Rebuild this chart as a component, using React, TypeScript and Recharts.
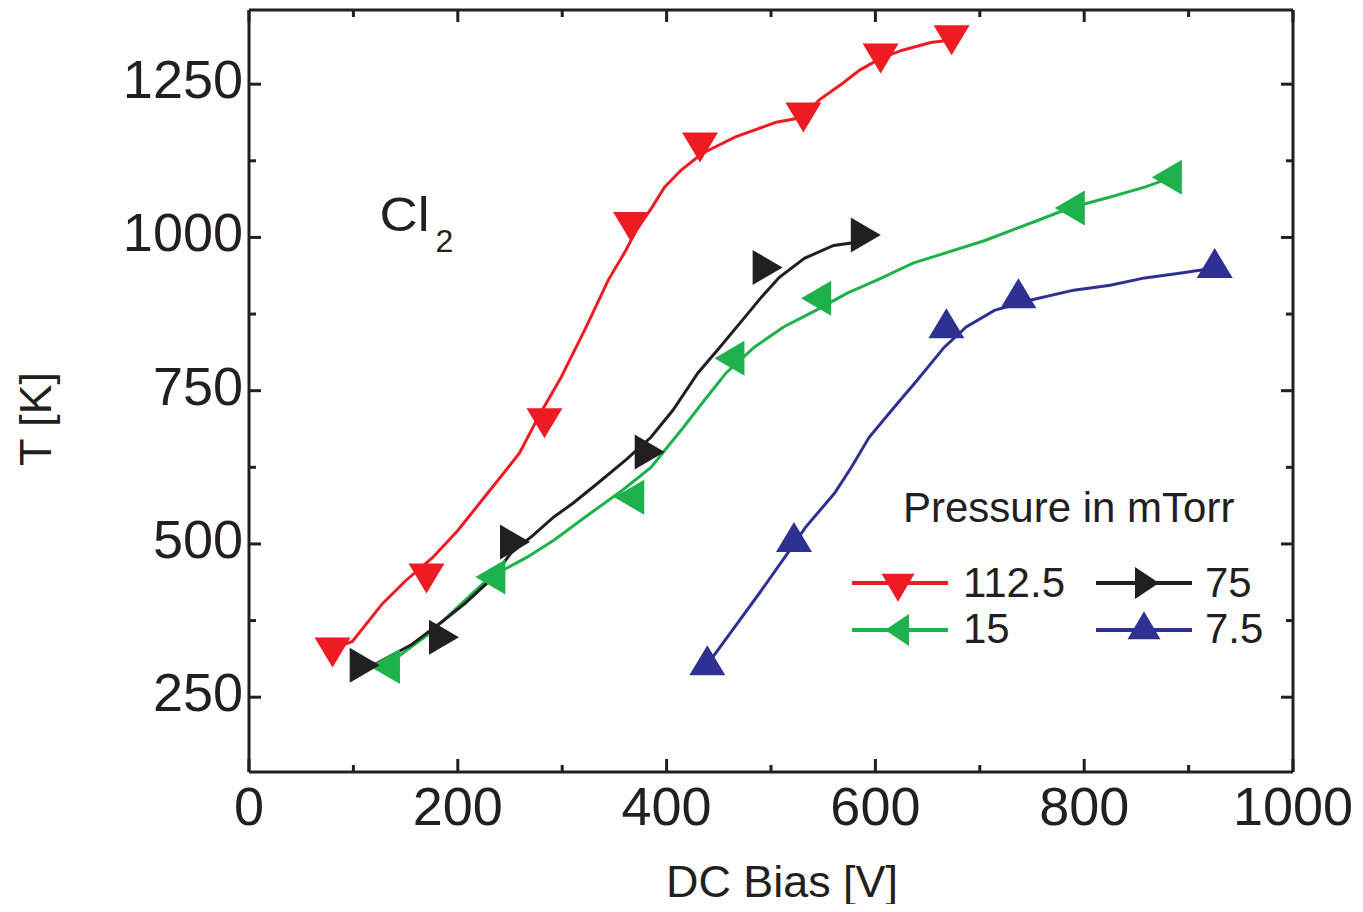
import React from 'react';
import { ComposedChart, Line, Scatter, XAxis, YAxis, Legend, ReferenceDot, Label } from 'recharts';

const FONT = '"Liberation Sans", Arial, Helvetica, sans-serif';
const INK = '#231F20';

// axes
const xDomain = [0, 1000];
const yDomain = [128, 1371];
const xTicks = [0, 100, 200, 300, 400, 500, 600, 700, 800, 900, 1000];
const xLabeled = [0, 200, 400, 600, 800, 1000];
const yTicks = [250, 375, 500, 625, 750, 875, 1000, 1125, 1250];
const yLabeled = [250, 500, 750, 1000, 1250];

// 112.5 mTorr (red)
const line112 = [
  { x: 82, y: 330 }, { x: 99, y: 341 }, { x: 128, y: 403 }, { x: 150, y: 440 }, { x: 176, y: 478 },
  { x: 200, y: 522 }, { x: 231, y: 588 }, { x: 259, y: 648 }, { x: 279, y: 713 }, { x: 299, y: 772 },
  { x: 323, y: 854 }, { x: 344, y: 930 }, { x: 361, y: 979 }, { x: 371, y: 1012 }, { x: 386, y: 1049 },
  { x: 398, y: 1082 }, { x: 414, y: 1110 }, { x: 434, y: 1137 }, { x: 466, y: 1164 }, { x: 505, y: 1188 },
  { x: 531, y: 1196 }, { x: 546, y: 1224 }, { x: 569, y: 1252 }, { x: 585, y: 1273 }, { x: 605, y: 1292 },
  { x: 625, y: 1305 }, { x: 653, y: 1318 }, { x: 673, y: 1322 },
];
const marks112 = [
  { x: 80, y: 331 }, { x: 170, y: 452 }, { x: 283, y: 705 }, { x: 366, y: 1025 },
  { x: 432, y: 1155 }, { x: 531, y: 1204 }, { x: 605, y: 1300 }, { x: 673, y: 1330 },
];

// 15 mTorr (green)
const line15 = [
  { x: 135, y: 300 }, { x: 142, y: 315 }, { x: 173, y: 354 }, { x: 200, y: 397 }, { x: 231, y: 446 },
  { x: 266, y: 478 }, { x: 292, y: 506 }, { x: 327, y: 550 }, { x: 358, y: 588 }, { x: 385, y: 625 },
  { x: 416, y: 690 }, { x: 436, y: 734 }, { x: 457, y: 779 }, { x: 484, y: 821 }, { x: 512, y: 854 },
  { x: 543, y: 881 }, { x: 573, y: 909 }, { x: 601, y: 930 }, { x: 636, y: 958 }, { x: 705, y: 995 },
  { x: 756, y: 1028 }, { x: 786, y: 1048 }, { x: 825, y: 1066 }, { x: 858, y: 1082 }, { x: 884, y: 1098 },
];
const marks15 = [
  { x: 135, y: 300 }, { x: 236, y: 446 }, { x: 369, y: 576 }, { x: 465, y: 803 },
  { x: 548, y: 901 }, { x: 791, y: 1048 }, { x: 884, y: 1098 },
];

// 75 mTorr (black)
const line75 = [
  { x: 106, y: 302 }, { x: 122, y: 305 }, { x: 155, y: 335 }, { x: 187, y: 376 }, { x: 207, y: 403 },
  { x: 231, y: 441 }, { x: 251, y: 485 }, { x: 272, y: 514 }, { x: 292, y: 544 }, { x: 310, y: 566 },
  { x: 334, y: 599 }, { x: 361, y: 637 }, { x: 385, y: 674 }, { x: 406, y: 718 }, { x: 430, y: 779 },
  { x: 451, y: 821 }, { x: 475, y: 870 }, { x: 491, y: 903 }, { x: 508, y: 935 }, { x: 532, y: 966 },
  { x: 560, y: 987 }, { x: 577, y: 991 }, { x: 586, y: 1004 },
];
const marks75 = [
  { x: 106, y: 302 }, { x: 182, y: 348 }, { x: 250, y: 503 }, { x: 379, y: 650 },
  { x: 492, y: 951 }, { x: 586, y: 1004 },
];

// 7.5 mTorr (blue)
const line7 = [
  { x: 439, y: 302 }, { x: 444, y: 315 }, { x: 465, y: 364 }, { x: 489, y: 420 }, { x: 516, y: 485 },
  { x: 533, y: 527 }, { x: 561, y: 583 }, { x: 577, y: 625 }, { x: 594, y: 674 }, { x: 618, y: 723 },
  { x: 640, y: 767 }, { x: 666, y: 821 }, { x: 687, y: 854 }, { x: 714, y: 881 }, { x: 749, y: 898 },
  { x: 790, y: 914 }, { x: 825, y: 922 }, { x: 858, y: 934 }, { x: 893, y: 942 }, { x: 925, y: 950 },
];
const marks7 = [
  { x: 439, y: 302 }, { x: 522, y: 503 }, { x: 668, y: 852 }, { x: 737, y: 901 }, { x: 925, y: 950 },
];

const seriesNames = ['112.5', '15', '75', '7.5'];
const seriesColors = ['#ED1C24', '#1FB14B', '#231F20', '#2E3192'];
const seriesDirs = ['down', 'left', 'right', 'up'];
const seriesLines = [line112, line15, line75, line7];
const seriesMarks = [marks112, marks15, marks75, marks7];

const series = seriesNames.map((name, i) => ({
  name, color: seriesColors[i], dir: seriesDirs[i], line: seriesLines[i], marks: seriesMarks[i],
}));

// triangle positioned by its centroid
function triPoints(dir: string, cx: number, cy: number, base: number, depth: number) {
  const b = base / 2;
  switch (dir) {
    case 'down':
      return `${cx - b},${cy - depth / 3} ${cx + b},${cy - depth / 3} ${cx},${cy + (2 * depth) / 3}`;
    case 'up':
      return `${cx - b},${cy + depth / 3} ${cx + b},${cy + depth / 3} ${cx},${cy - (2 * depth) / 3}`;
    case 'right':
      return `${cx - depth / 3},${cy - b} ${cx - depth / 3},${cy + b} ${cx + (2 * depth) / 3},${cy}`;
    default:
      return `${cx + depth / 3},${cy - b} ${cx + depth / 3},${cy + b} ${cx - (2 * depth) / 3},${cy}`;
  }
}

const makeShape = (dir: string, color: string) => (props: any) => {
  const { cx, cy } = props;
  if (cx == null || cy == null) return <g />;
  const vertical = dir === 'up' || dir === 'down';
  return (
    <polygon
      points={triPoints(dir, cx, cy, vertical ? 36 : 35, 30)}
      fill={color}
      stroke="none"
    />
  );
};

const BottomTick = (p: any) => {
  const { x, y, payload } = p;
  const major = xLabeled.includes(payload.value);
  return (
    <g>
      <line x1={x} x2={x} y1={y} y2={y - (major ? 13 : 7)} stroke={INK} strokeWidth={3} />
      {major && (
        <text x={x} y={y + 53} textAnchor="middle" fontSize={54} fontFamily={FONT} fill={INK}>
          {payload.value}
        </text>
      )}
    </g>
  );
};

const TopTick = (p: any) => {
  const { x, y, payload } = p;
  const major = xLabeled.includes(payload.value);
  return <line x1={x} x2={x} y1={y} y2={y + (major ? 12 : 7)} stroke={INK} strokeWidth={3} />;
};

const LeftTick = (p: any) => {
  const { x, y, payload } = p;
  const major = yLabeled.includes(payload.value);
  return (
    <g>
      <line x1={x} x2={x + (major ? 12 : 7)} y1={y} y2={y} stroke={INK} strokeWidth={3} />
      {major && (
        <text x={x - 6} y={y + 14} textAnchor="end" fontSize={54} fontFamily={FONT} fill={INK}>
          {payload.value}
        </text>
      )}
    </g>
  );
};

const RightTick = (p: any) => {
  const { x, y, payload } = p;
  const major = yLabeled.includes(payload.value);
  return <line x1={x} x2={x - (major ? 12 : 7)} y1={y} y2={y} stroke={INK} strokeWidth={3} />;
};

const XTitle = () => (
  <text
    x={774}
    y={889}
    textAnchor="middle"
    fontSize={45}
    fontFamily={FONT}
    fill={INK}
    textLength={232}
    lengthAdjust="spacingAndGlyphs"
  >
    DC Bias [V]
  </text>
);

const YTitle = () => (
  <text
    x={43}
    y={411}
    textAnchor="middle"
    fontSize={45}
    fontFamily={FONT}
    fill={INK}
    transform="rotate(-90, 43, 411)"
  >
    T [K]
  </text>
);

const GasLabel = (props: any) => {
  const { cx, cy } = props;
  if (cx == null || cy == null) return <g />;
  return (
    <g>
      <text x={cx - 1} y={cy + 8} fontSize={49} fontFamily={FONT} fill={INK} textLength={50} lengthAdjust="spacingAndGlyphs">
        Cl
      </text>
      <text x={cx + 55} y={cy + 29} fontSize={32} fontFamily={FONT} fill={INK}>
        2
      </text>
    </g>
  );
};

const legendTitle = 'Pressure in mTorr';
const legendSlots = [
  { lx: 12, ty: 103, mx: 58, tx: 123, by: 117 },
  { lx: 12, ty: 150, mx: 61, tx: 123, by: 163 },
  { lx: 256, ty: 103, mx: 303, tx: 365, by: 117 },
  { lx: 256, ty: 150, mx: 304, tx: 365, by: 163 },
];

const LegendContent = () => (
  <svg width={440} height={190} style={{ display: 'block', overflow: 'visible' }}>
    <text x={63} y={42} fontSize={42} fontFamily={FONT} fill={INK}>
      {legendTitle}
    </text>
    {series.map((s, i) => {
      const slot = legendSlots[i];
      const vertical = s.dir === 'up' || s.dir === 'down';
      return (
        <g key={s.name}>
          <line x1={slot.lx} x2={slot.lx + 96} y1={slot.ty} y2={slot.ty} stroke={s.color} strokeWidth={4} />
          <polygon
            points={triPoints(s.dir, slot.mx, slot.ty, vertical ? 33 : 32, vertical ? 28 : 24)}
            fill={s.color}
          />
          <text x={slot.tx} y={slot.by} fontSize={42} fontFamily={FONT} fill={INK}>
            {s.name}
          </text>
        </g>
      );
    })}
  </svg>
);

export default function App() {
  return (
    <div style={{ width: 1347, height: 904, marginBottom: -8, fontFamily: FONT }}>
      <ComposedChart width={1347} height={904} margin={{ top: 0, right: 60, bottom: 20, left: 0 }}>
        <XAxis
          xAxisId="b"
          type="number"
          dataKey="x"
          orientation="bottom"
          domain={xDomain}
          ticks={xTicks}
          interval={0}
          allowDataOverflow
          height={120}
          tickSize={0}
          tickMargin={0}
          tickLine={false}
          axisLine={{ stroke: INK, strokeWidth: 3 }}
          tick={BottomTick}
        >
          <Label content={XTitle} />
        </XAxis>
        <XAxis
          xAxisId="t"
          type="number"
          dataKey="x"
          orientation="top"
          domain={xDomain}
          ticks={xTicks}
          interval={0}
          allowDataOverflow
          height={2}
          tickSize={0}
          tickMargin={0}
          tickLine={false}
          axisLine={{ stroke: INK, strokeWidth: 3 }}
          tick={TopTick}
        />
        <YAxis
          yAxisId="l"
          type="number"
          dataKey="y"
          orientation="left"
          domain={yDomain}
          ticks={yTicks}
          interval={0}
          allowDataOverflow
          width={241}
          tickSize={0}
          tickMargin={0}
          tickLine={false}
          axisLine={{ stroke: INK, strokeWidth: 3 }}
          tick={LeftTick}
        >
          <Label content={YTitle} />
        </YAxis>
        <YAxis
          yAxisId="r"
          type="number"
          dataKey="y"
          orientation="right"
          domain={yDomain}
          ticks={yTicks}
          interval={0}
          allowDataOverflow
          width={2}
          tickSize={0}
          tickMargin={0}
          tickLine={false}
          axisLine={{ stroke: INK, strokeWidth: 3 }}
          tick={RightTick}
        />
        <ReferenceDot xAxisId="b" yAxisId="l" x={126} y={1023} r={0} shape={GasLabel} ifOverflow="visible" />
        {series.map((s) => (
          <Line
            key={'l' + s.name}
            xAxisId="b"
            yAxisId="l"
            data={s.line}
            dataKey="y"
            name={s.name}
            type="linear"
            stroke={s.color}
            strokeWidth={3}
            dot={false}
            activeDot={false}
            isAnimationActive={false}
            legendType="none"
          />
        ))}
        {series.map((s) => (
          <Scatter
            key={'m' + s.name}
            xAxisId="b"
            yAxisId="l"
            data={s.marks}
            dataKey="y"
            name={s.name}
            fill={s.color}
            shape={makeShape(s.dir, s.color)}
            isAnimationActive={false}
          />
        ))}
        <Legend
          layout="vertical"
          align="center"
          verticalAlign="middle"
          wrapperStyle={{ position: 'absolute', left: 832, top: 472, width: 440, height: 190 }}
          content={LegendContent}
        />
      </ComposedChart>
    </div>
  );
}
